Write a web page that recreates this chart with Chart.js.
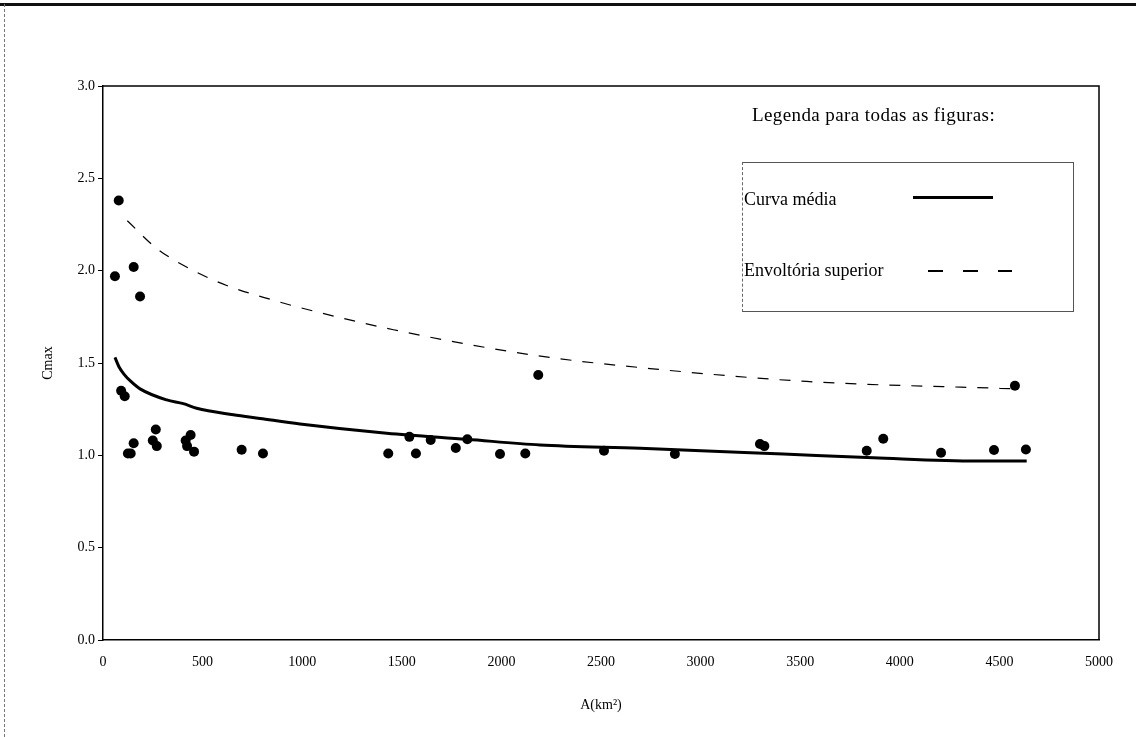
<!DOCTYPE html>
<html>
<head>
<meta charset="utf-8">
<script src="https://cdn.jsdelivr.net/npm/chart.js@4"></script>
<style>
    html, body { margin: 0; padding: 0; background: #fff; }
    #wrap { position: relative; width: 1136px; height: 737px; overflow: hidden; }
    #frameTop { position: absolute; left: 0; top: 3px; width: 1136px; border-top: 3px solid #111; }
    #frameLeft { position: absolute; left: 4px; top: 4px; height: 733px; border-left: 1px dashed #777; }
    .leg { position: absolute; font-family: "Liberation Serif", "Times New Roman", serif; font-size: 18px; color: #000; white-space: nowrap; line-height: 1; }
    #legBox { position: absolute; left: 742px; top: 162px; width: 330px; height: 148px; border: 1px solid #555; border-left: 1px dashed #666; }
    #solidSample { position: absolute; left: 913px; top: 196px; width: 80px; border-top: 3px solid #000; }
    #dashSample { position: absolute; left: 928px; top: 270px; width: 84px; height: 1.5px;
        background: repeating-linear-gradient(to right, #000 0 15px, transparent 15px 35px); }
</style>
</head>
<body>
<div id="wrap">
    <canvas id="chart" width="1136" height="737"></canvas>
    <div id="frameTop"></div>
    <div id="frameLeft"></div>
    <div class="leg" style="left:752px; top:105px; font-size:19px; letter-spacing:0.4px;">Legenda para todas as figuras:</div>
    <div id="legBox"></div>
    <div class="leg" style="left:744px; top:190px;">Curva média</div>
    <div id="solidSample"></div>
    <div class="leg" style="left:744px; top:261px;">Envoltória superior</div>
    <div id="dashSample"></div>
</div>
<script>
// observed points: area (km2) and Cmax
const areas = [60, 79, 154, 186, 91, 109, 125, 139, 154, 250, 265, 270, 415, 422, 440, 457, 696, 803,
    1432, 1538, 1571, 1645, 1771, 1829, 1993, 2120, 2185, 2515, 2871, 3298, 3320, 3834, 3917, 4207,
    4473, 4578, 4633];
const cmax = [1.97, 2.38, 2.02, 1.86, 1.35, 1.32, 1.01, 1.01, 1.065, 1.08, 1.14, 1.05, 1.08, 1.05, 1.11, 1.02, 1.03, 1.01,
    1.01, 1.10, 1.01, 1.083, 1.04, 1.087, 1.007, 1.01, 1.435, 1.025, 1.007, 1.061, 1.05, 1.025, 1.09, 1.014,
    1.029, 1.377, 1.032];

// curva média
const meanA = [60, 80, 105, 140, 186, 320, 403, 470, 654, 788, 989, 1424, 1826, 2194, 2696, 3415, 3867, 4386, 4637];
const meanC = [1.53, 1.48, 1.44, 1.40, 1.36, 1.30, 1.28, 1.255, 1.22, 1.20, 1.17, 1.12, 1.087, 1.056, 1.038, 1.007, 0.987, 0.969, 0.969];

// envoltória superior
const envA = [122, 270, 437, 621, 855, 989, 1458, 2177, 2746, 3532, 4503, 4600];
const envC = [2.27, 2.12, 2.01, 1.92, 1.84, 1.80, 1.68, 1.54, 1.47, 1.40, 1.363, 1.36];

const xTicks = [0, 500, 1000, 1500, 2000, 2500, 3000, 3500, 4000, 4500, 5000];
const yTicks = [0, 0.5, 1.0, 1.5, 2.0, 2.5, 3.0];

const toXY = (xs, ys) => xs.map((x, i) => ({ x: x, y: ys[i] }));

const tickFont = { family: '"Liberation Serif", "Times New Roman", serif', size: 14 };

const frame = {
    id: 'frame',
    afterDraw(chart) {
        const { ctx, chartArea: a } = chart;
        ctx.save();
        ctx.strokeStyle = '#000';
        ctx.lineWidth = 1.5;
        ctx.beginPath();
        ctx.moveTo(a.left, a.top);
        ctx.lineTo(a.right, a.top);
        ctx.lineTo(a.right, a.bottom);
        ctx.stroke();
        ctx.restore();
    }
};

new Chart(document.getElementById('chart'), {
    type: 'scatter',
    data: {
        datasets: [
            {
                label: 'pontos',
                data: toXY(areas, cmax),
                pointRadius: 5,
                pointBackgroundColor: '#000',
                pointBorderWidth: 0,
                order: 0
            },
            {
                label: 'Curva média',
                data: toXY(meanA, meanC),
                showLine: true,
                borderColor: '#000',
                borderWidth: 3,
                cubicInterpolationMode: 'monotone',
                pointRadius: 0,
                order: 1
            },
            {
                label: 'Envoltória superior',
                data: toXY(envA, envC),
                showLine: true,
                borderColor: '#000',
                borderWidth: 1.2,
                borderDash: [11, 11],
                cubicInterpolationMode: 'monotone',
                pointRadius: 0,
                order: 2
            }
        ]
    },
    options: {
        responsive: false,
        animation: false,
        layout: { padding: { left: 28, top: 86, right: 37, bottom: 0 } },
        plugins: {
            legend: { display: false },
            tooltip: { enabled: false }
        },
        scales: {
            x: {
                type: 'linear',
                min: 0,
                max: 5000,
                afterBuildTicks: s => { s.ticks = xTicks.map(v => ({ value: v })); },
                afterFit: s => { s.height = 97; },
                ticks: { color: '#000', font: tickFont, padding: 14, callback: v => String(v) },
                grid: { drawOnChartArea: false, drawTicks: false },
                border: { color: '#000', width: 1.5 },
                title: { display: true, text: 'A(km²)', color: '#000', font: tickFont, padding: { top: 0, bottom: 23 } }
            },
            y: {
                min: 0,
                max: 3,
                afterBuildTicks: s => { s.ticks = yTicks.map(v => ({ value: v })); },
                afterFit: s => { s.width = 75; },
                ticks: { color: '#000', font: tickFont, padding: 3, callback: v => v.toFixed(1) },
                grid: { drawOnChartArea: false, drawTicks: true, tickLength: 5, color: '#000' },
                border: { color: '#000', width: 1.5 },
                title: { display: true, text: 'Cmax', color: '#000', font: tickFont, padding: { top: 12, bottom: 0 } }
            }
        }
    },
    plugins: [frame]
});
</script>
</body>
</html>
